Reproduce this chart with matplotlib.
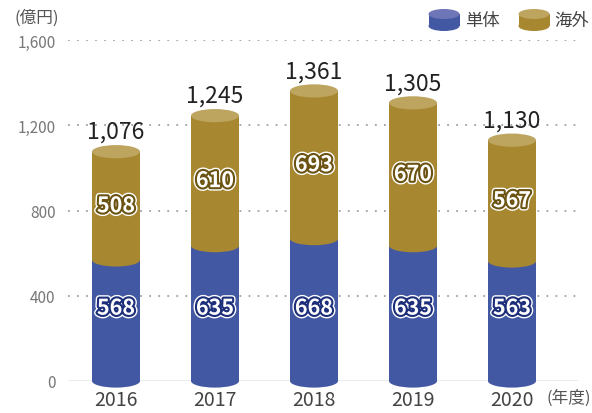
import numpy as np
import matplotlib.pyplot as plt
from matplotlib.patches import Ellipse, Rectangle
from matplotlib.transforms import IdentityTransform
import matplotlib.patheffects as pe

plt.rcParams['font.family'] = ['Noto Sans CJK JP', 'DejaVu Sans']

# ===== データ =====
years    = ['2016', '2017', '2018', '2019', '2020']
tantai   = [568, 635, 668, 635, 563]   # 単体
kaigai   = [508, 610, 693, 670, 567]   # 海外
yticks   = [0, 400, 800, 1200, 1600]
ylabels  = ['0', '400', '800', '1,200', '1,600']

# ===== 色 =====
blue, blue_dk, blue_top = '#4258a2', '#1d2f7a', '#6e76b8'
gold, gold_dk, gold_top = '#a7872f', '#6b5312', '#bda45f'

W, H = 592, 414
fig = plt.figure(figsize=(W / 100, H / 100), dpi=100)
ax = fig.add_axes([68 / W, 32 / H, 510 / W, 341 / H])

x = np.arange(len(years))
bw = 0.485      # 棒の幅 (データ単位)
eh = 62         # 楕円の高さ (データ単位)

ax.set_xlim(-0.485, 4.667)
ax.set_ylim(0, 1600)

# グリッド
for v in yticks[1:]:
    ax.axhline(v, color='#a0a0a0', lw=1.3, ls=(0, (1, 4)), zorder=0)
ax.axhline(0, color='#999999', lw=1.0, zorder=0)

def segment(xc, y0, y1, col, z):
    ax.add_patch(Rectangle((xc - bw / 2, y0), bw, y1 - y0, fc=col, ec='none',
                           zorder=z, clip_on=False))
    ax.add_patch(Ellipse((xc, y0), bw, eh, fc=col, ec='none', zorder=z,
                         clip_on=False))

def inner_label(xc, yy, val, dk):
    ax.text(xc, yy, str(val), ha='center', va='center', fontsize=15.5,
            fontweight='bold', color='white', zorder=6,
            path_effects=[pe.Stroke(linewidth=5, foreground='white'),
                          pe.Stroke(linewidth=3, foreground=dk),
                          pe.Normal()])

for i in range(len(years)):
    t = tantai[i]
    k = kaigai[i]
    tot = t + k
    segment(x[i], 0, t, blue, 2)
    segment(x[i], t, tot, gold, 3)
    ax.add_patch(Ellipse((x[i], tot), bw, eh, fc=gold_top, ec='none', zorder=4))

    inner_label(x[i], 342, t, blue_dk)
    inner_label(x[i], t + k / 2, k, gold_dk)
    ax.text(x[i], tot + 64, f'{tot:,}', ha='center', va='baseline',
            fontsize=16.5, color='#222222', zorder=6)

ax.set_xticks(x)
ax.set_xticklabels(years, fontsize=14, color='#444444')
ax.set_yticks(yticks)
ax.set_yticklabels(ylabels, fontsize=11, color='#777777')
ax.tick_params(length=0, pad=9)
ax.tick_params(axis='x', pad=6)
for s in ax.spines.values():
    s.set_visible(False)

fig.text(14 / W, 1 - 18 / H, '(億円)', fontsize=12, color='#555555',
         ha='left', va='center')
fig.text(546 / W, 1 - 398 / H, '(年度)', fontsize=12, color='#555555',
         ha='left', va='center')

# ===== 凡例 =====
def legend_icon(cx, cy, col, top):
    w, eh_px, body = 31, 10, 12
    tr = IdentityTransform()
    yb = H - (cy + body / 2)
    yt = H - (cy - body / 2)
    for p in [Ellipse((cx, yb), w, eh_px, fc=col, ec='none', transform=tr),
              Rectangle((cx - w / 2, yb), w, body, fc=col, ec='none', transform=tr),
              Ellipse((cx, yt), w, eh_px, fc=top, ec='none', transform=tr)]:
        fig.add_artist(p)

legend_icon(444, 21, blue, blue_top)
fig.text(465 / W, 1 - 21 / H, '単体', fontsize=12.5, color='#444444',
         ha='left', va='center')
legend_icon(534, 21, gold, gold_top)
fig.text(554 / W, 1 - 21 / H, '海外', fontsize=12.5, color='#444444',
         ha='left', va='center')

fig.savefig('out.png', dpi=100)
